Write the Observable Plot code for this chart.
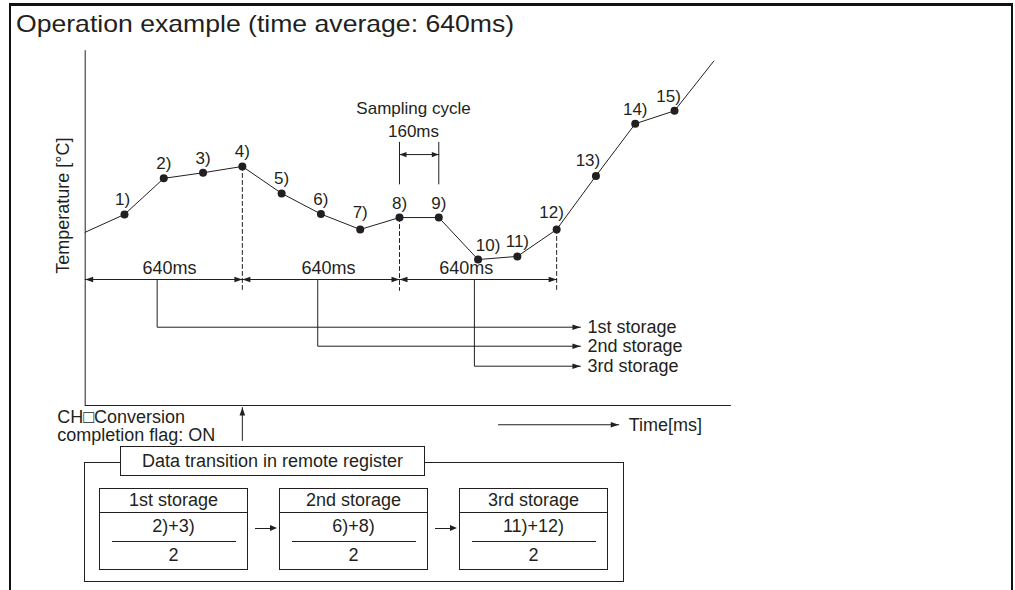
<!DOCTYPE html>
<html>
<head>
<meta charset="utf-8">
<script src="https://cdn.jsdelivr.net/npm/d3@7"></script>
<script src="https://cdn.jsdelivr.net/npm/@observablehq/plot@0.6"></script>
<style>
  body { margin: 0; background: #fff; }
  #page { position: relative; width: 1015px; height: 590px; overflow: hidden; background: #fff;
          font-family: "Liberation Sans", Arial, Helvetica, sans-serif; color: #231f20; }
  .frame { position: absolute; left: 9px; top: 3px; width: 1000px; height: 700px;
           border-top: 3px solid #111; border-left: 2.5px solid #111; border-right: 2.5px solid #111; }
  .title { position: absolute; left: 16px; top: 9px; font-size: 24px; line-height: 29px; white-space: nowrap;
           transform: scaleX(1.108); transform-origin: 0 0; }
  #chart { position: absolute; left: 0; top: 40px; }
  .reg { position: absolute; left: 84px; top: 462px; width: 540px; height: 120px;
         border: 1px solid #231f20; box-sizing: border-box; }
  .tab { position: absolute; left: 120px; top: 446px; width: 305px; height: 30px; box-sizing: border-box;
         border: 1px solid #231f20; background: #fff; font-size: 18px; line-height: 28px; text-align: center; }
  .cell { position: absolute; top: 488px; width: 149px; height: 82px; border: 1px solid #231f20;
          box-sizing: border-box; font-size: 18px; }
  .cell .hd { position: absolute; left: 0; right: 0; top: 0; height: 23px; line-height: 23px;
              border-bottom: 1px solid #231f20; text-align: center; }
  .cell .num { position: absolute; left: 0; right: 0; top: 26px; height: 22px; line-height: 22px; text-align: center; }
  .cell .bar { position: absolute; left: 12px; right: 11px; top: 52px; border-top: 1px solid #231f20; }
  .cell .den { position: absolute; left: 0; right: 0; top: 55px; height: 22px; line-height: 22px; text-align: center; }
  .arr { position: absolute; top: 528px; width: 15px; border-top: 1px solid #231f20; }
  .arr::after { content: ""; position: absolute; right: -7px; top: -4px; width: 0; height: 0;
                border-left: 7px solid #231f20; border-top: 3.5px solid transparent; border-bottom: 3.5px solid transparent; }
</style>
</head>
<body>
<div id="page">
  <div class="frame"></div>
  <div class="title">Operation example (time average: 640ms)</div>
  <div id="chart"></div>
  <div class="reg"></div>
  <div class="tab" id="tab"></div>
  <div id="cells"></div>
</div>
<script>
// ---------------- data ----------------
const sampleTimes = [0, 160, 320, 480, 640, 800, 960, 1120, 1280, 1440, 1600, 1760, 1920, 2080, 2240, 2400, 2560]; // ms
const temperatures = [49.5, 54.6, 64.9, 66.5, 68.3, 60.6, 54.7, 50.3, 53.7, 53.7, 41.7, 42.6, 50.3, 65.6, 80.5, 84.2, 98.4];
const sampleLabels = ["", "1)", "2)", "3)", "4)", "5)", "6)", "7)", "8)", "9)", "10)", "11)", "12)", "13)", "14)", "15)", ""];
const periodBounds = [0, 640, 1280, 1920]; // ms, 640 ms averaging periods
const periodLabel = "640ms";
const samplingCycle = [1280, 1440]; // one 160 ms sampling cycle
const samplingLabel = ["Sampling cycle", "160ms"];
const storageNames = ["1st storage", "2nd storage", "3rd storage"];
const storageFormulas = ["2)+3)", "6)+8)", "11)+12)"];
const storageDivisor = "2";
const registerTitle = "Data transition in remote register";
const yAxisLabel = "Temperature [°C]";
const xAxisLabel = "Time[ms]";
const flagLabel = "CH\u25A1Conversion\ncompletion flag: ON";

// ---------------- layout (data units) ----------------
const C = "#231f20";
const PX_PER_MS = 0.24554, PX_PER_T = 3.5;
const hx = px => px / PX_PER_MS, hy = px => px / PX_PER_T;
const Y_TOP = 101.4, X_END = 2628;
const SPAN_Y = 36, DASH_BOTTOM = 32.9;
const SPAN_LABEL_X = [343, 991, 1552];
const STORAGE_SRC_X = [293, 947, 1585];
const STORAGE_Y = [22.37, 16.94, 11.23];
const STORAGE_TIP = 2017;
const SC_TOP = 75.2, SC_BOTTOM = 63.3, SC_ARROW = 71.7, SC_TEXT_X = 1337, SC_TEXT_Y = 76.6;
const TIME_ARROW = {x1: 1683, x2: 2173, y: -5.5};
const FLAG_ARROW = {x: 640, y1: -10, y2: -0.57};
// small label nudges (px) to keep labels clear of the curve
const LABEL_NUDGE = {"1)": [-2, 0], "7)": [0, -2], "10)": [10, 0], "12)": [-5, -2], "13)": [-8, -1], "15)": [-6, 0]};

const samples = sampleTimes.map((t, i) => ({t, temp: temperatures[i], label: sampleLabels[i]}));
const dots = samples.filter(d => d.label);

// polylines
const polys = [];
let pid = 0;
function poly(pts) { const id = pid++; pts.forEach(([t, y]) => polys.push({id, t, y})); }
poly([[0, 0], [0, Y_TOP]]);
poly([[0, 0], [X_END, 0]]);
for (let i = 0; i < 3; i++) poly([[periodBounds[i], SPAN_Y], [periodBounds[i + 1], SPAN_Y]]);
for (let i = 0; i < 3; i++) poly([[STORAGE_SRC_X[i], SPAN_Y], [STORAGE_SRC_X[i], STORAGE_Y[i]], [STORAGE_TIP, STORAGE_Y[i]]]);
samplingCycle.forEach(t => poly([[t, SC_BOTTOM], [t, SC_TOP]]));
poly([[samplingCycle[0], SC_ARROW], [samplingCycle[1], SC_ARROW]]);
poly([[TIME_ARROW.x1, TIME_ARROW.y], [TIME_ARROW.x2, TIME_ARROW.y]]);
poly([[FLAG_ARROW.x, FLAG_ARROW.y1], [FLAG_ARROW.x, FLAG_ARROW.y2]]);

// dashed drop lines at end of each period
const dashes = [];
periodBounds.slice(1).forEach((t, i) => {
  const s = samples.find(d => d.t === t);
  dashes.push({id: i, t, y: s.temp}, {id: i, t, y: DASH_BOTTOM});
});

// filled arrow heads
const heads = [];
let hid = 0;
function head(t, y, dir, L = 8, W = 2.8) {
  const id = hid++;
  let pts;
  if (dir === "r") pts = [[t, y], [t - hx(L), y + hy(W)], [t - hx(L), y - hy(W)]];
  else if (dir === "l") pts = [[t, y], [t + hx(L), y + hy(W)], [t + hx(L), y - hy(W)]];
  else pts = [[t, y], [t - hx(W), y - hy(L)], [t + hx(W), y - hy(L)]];
  pts.forEach(([a, b]) => heads.push({id, t: a, y: b}));
}
for (let i = 0; i < 3; i++) { head(periodBounds[i], SPAN_Y, "l"); head(periodBounds[i + 1], SPAN_Y, "r"); }
head(samplingCycle[0], SC_ARROW, "l", 7, 2.6); head(samplingCycle[1], SC_ARROW, "r", 7, 2.6);
STORAGE_Y.forEach(y => head(STORAGE_TIP, y, "r"));
head(TIME_ARROW.x2, TIME_ARROW.y, "r");
head(FLAG_ARROW.x, FLAG_ARROW.y2, "u");

const spanTexts = SPAN_LABEL_X.map(x => ({x, y: SPAN_Y, text: periodLabel}));
const nudgeX = d => hx((LABEL_NUDGE[d.label] || [0, 0])[0]);
const nudgeY = d => -hy((LABEL_NUDGE[d.label] || [0, 0])[1]);

const chart = Plot.plot({
  width: 1015, height: 415,
  marginLeft: 0, marginRight: 0, marginTop: 0, marginBottom: 0,
  x: {domain: [0, 2560], range: [84.7, 713.3], axis: null},
  y: {domain: [0, 100], range: [365, 15], axis: null},
  style: {fontFamily: "'Liberation Sans', Arial, Helvetica, sans-serif", color: C, background: "transparent", overflow: "visible"},
  marks: [
    Plot.line(polys, {x: "t", y: "y", z: "id", stroke: C, strokeWidth: 1, curve: "linear"}),
    Plot.line(dashes, {x: "t", y: "y", z: "id", stroke: C, strokeWidth: 1, strokeDasharray: "4,3"}),
    Plot.line(heads, {x: "t", y: "y", z: "id", fill: C, stroke: "none"}),
    Plot.line(samples, {x: "t", y: "temp", stroke: C, strokeWidth: 1}),
    Plot.dot(dots, {x: "t", y: "temp", r: 4, fill: C, stroke: "none"}),
    Plot.text(dots, {x: d => d.t + nudgeX(d), y: d => d.temp + nudgeY(d), text: "label", dy: -9, lineAnchor: "bottom", fontSize: 17, fill: C}),
    Plot.text(spanTexts, {x: "x", y: "y", text: "text", dy: -6, lineAnchor: "bottom", fontSize: 18, fill: C}),
    Plot.text(storageNames, {x: () => STORAGE_TIP, y: (d, i) => STORAGE_Y[i], text: d => d, dx: 7, textAnchor: "start", lineAnchor: "middle", fontSize: 18, fill: C}),
    Plot.text([samplingLabel.join("\n")], {x: () => SC_TEXT_X, y: () => SC_TEXT_Y, text: d => d, lineAnchor: "bottom", lineHeight: 1.35, fontSize: 17, fill: C}),
    Plot.text([xAxisLabel], {x: () => TIME_ARROW.x2, y: () => TIME_ARROW.y, text: d => d, dx: 10, textAnchor: "start", lineAnchor: "middle", fontSize: 18, fill: C}),
    Plot.text([flagLabel], {x: () => -114, y: () => -1.29, text: d => d, textAnchor: "start", lineAnchor: "top", lineHeight: 1.02, fontSize: 18, fill: C}),
    Plot.text([yAxisLabel], {x: () => -88, y: () => 57.1, text: d => d, rotate: -90, lineAnchor: "middle", fontSize: 18, fill: C})
  ]
});
document.getElementById("chart").appendChild(chart);

// register box
document.getElementById("tab").textContent = registerTitle;
const cells = document.getElementById("cells");
const cellLefts = [99, 279, 459];
storageNames.forEach((name, i) => {
  const c = document.createElement("div");
  c.className = "cell";
  c.style.left = cellLefts[i] + "px";
  c.innerHTML = `<div class="hd"></div><div class="num"></div><div class="bar"></div><div class="den"></div>`;
  c.querySelector(".hd").textContent = name;
  c.querySelector(".num").textContent = storageFormulas[i];
  c.querySelector(".den").textContent = storageDivisor;
  cells.appendChild(c);
  if (i < storageNames.length - 1) {
    const a = document.createElement("div");
    a.className = "arr";
    a.style.left = (cellLefts[i] + 156) + "px";
    cells.appendChild(a);
  }
});
</script>
</body>
</html>
